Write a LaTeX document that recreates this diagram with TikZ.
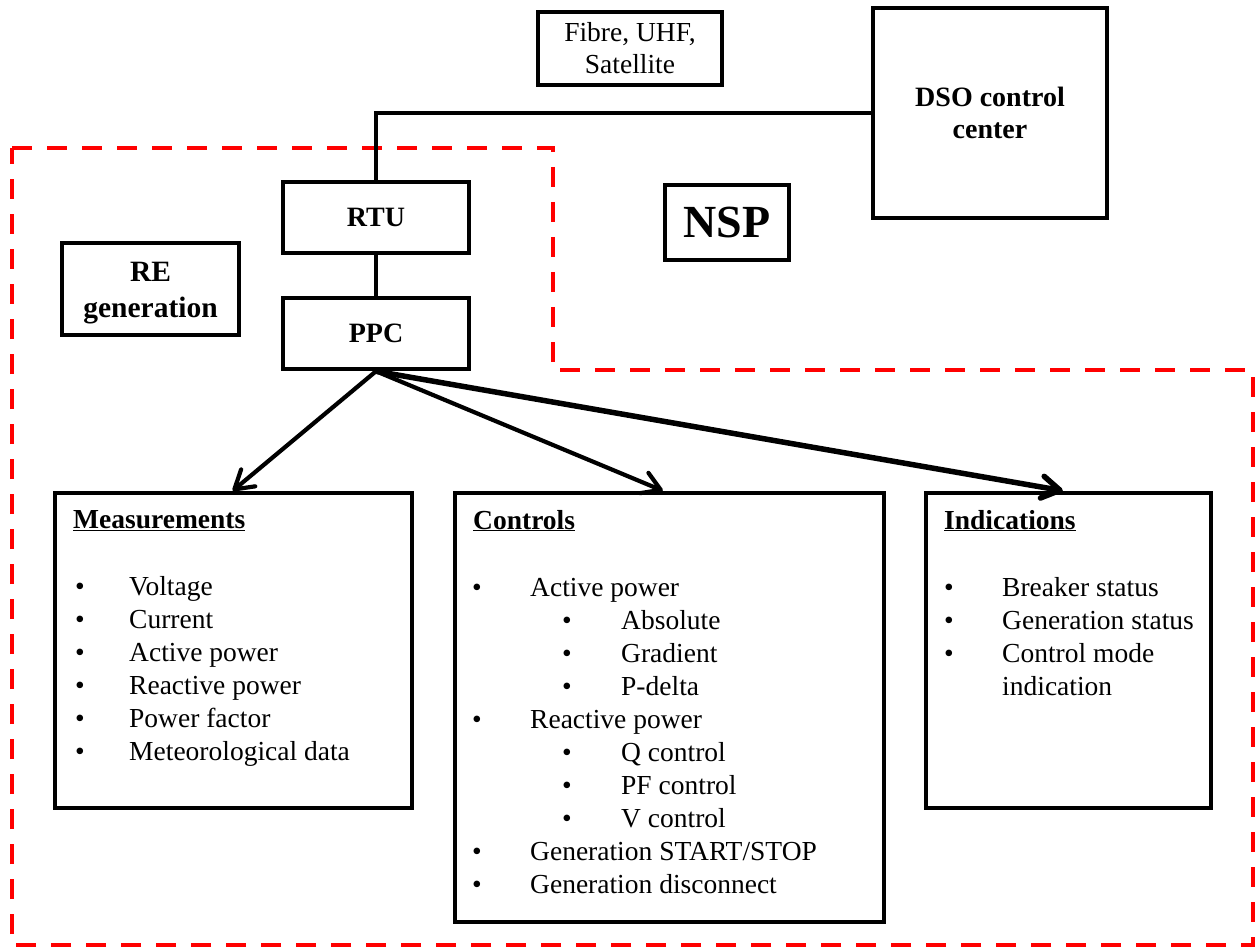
\documentclass[tikz,border=0pt]{standalone}
\usepackage{fontspec}
\setmainfont{Liberation Serif}
\usetikzlibrary{arrows.meta}
\newcommand\bodysize{\fontsize{27.5}{33}\selectfont}
\newcommand\headsize{\fontsize{28}{32}\selectfont\bfseries}
\begin{document}
\begin{tikzpicture}[x=1pt,y=-1pt,
  box/.style={draw, line width=4.5pt, inner sep=0pt},
  boldtxt/.style={anchor=base, inner sep=0pt, font=\headsize},
  plaintxt/.style={anchor=base, inner sep=0pt, font=\bodysize},
  item/.style={anchor=base west, inner sep=0pt, font=\bodysize},
  dot/.style={anchor=base, inner sep=0pt, font=\bodysize},
  heading/.style={anchor=base west, inner sep=0pt, font=\bodysize\bfseries},
  link/.style={line width=4.5pt},
  feed/.style={line width=4.2pt, line cap=round,
    -{Straight Barb[length=18pt,width=22pt,line cap=round,line join=round]}},
  zone/.style={draw=red, line width=4.5pt, dash pattern=on 20pt off 15pt},
]
\useasboundingbox (0,0) rectangle (1257,949);

% operator side
\node[box, minimum width=184pt, minimum height=73pt] (fibre) at (630,48.5) {};
\node[plaintxt] (fibre1) at (630,42) {Fibre, UHF,};
\node[plaintxt] (fibre2) at (630,74) {Satellite};

\node[box, minimum width=234pt, minimum height=210pt] (dso) at (990,113) {};
\node[boldtxt] (dso1) at (990,107) {DSO control};
\node[boldtxt] (dso2) at (990,139) {center};

\node[box, minimum width=124pt, minimum height=75pt, font=\fontsize{46}{50}\selectfont\bfseries] (nsp) at (727,222.5) {NSP};

% plant side
\node[box, minimum width=186pt, minimum height=71pt, font=\headsize] (rtu) at (376,217.5) {RTU};
\node[box, minimum width=186pt, minimum height=71pt, font=\headsize] (ppc) at (376,333.5) {PPC};

\node[box, minimum width=177pt, minimum height=92pt] (re) at (150.5,289) {};
\node[boldtxt, font=\fontsize{29.5}{33}\selectfont\bfseries] (re1) at (150.5,282) {RE};
\node[boldtxt, font=\fontsize{29.5}{33}\selectfont\bfseries] (re2) at (150.5,317) {generation};

% boundary between the two domains
\draw[zone] (12,148) -- (553,148) -- (553,370) -- (1253,370) -- (1253,945) -- (12,945) -- cycle;

% communication links
\draw[link] (rtu.north) |- (dso.west);
\draw[link] (rtu.south) -- (ppc.north);

% signal groups
\node[box, minimum width=357pt, minimum height=315pt] (meas) at (233.5,650.5) {};
\node[box, minimum width=429pt, minimum height=429pt] (ctrl) at (669.5,707.5) {};
\node[box, minimum width=285pt, minimum height=315pt] (ind) at (1068.5,650.5) {};

\draw[feed] (ppc.south) -- ([xshift=180pt]meas.north west);
\draw[feed] (ppc.south) -- ([xshift=210pt]ctrl.north west);
\draw[feed, line width=5.5pt] (ppc.south) -- ([xshift=139pt]ind.north west);

% measurements
\node[heading] (mh) at (73,528) {\underline{Measurements}};
\foreach \t [count=\i from 0] in {Voltage, Current, Active power, Reactive power, Power factor, Meteorological data} {
  \node[dot] (mb\i) at (80,595+33*\i) {\textbullet};
  \node[item] (mt\i) at (129,595+33*\i) {\t};
}

% controls
\node[heading] (ch) at (473,529) {\underline{Controls}};
\foreach \t/\lvl [count=\i from 0] in {Active power/0, Absolute/1, Gradient/1, P-delta/1, Reactive power/0, Q control/1, PF control/1, V control/1, {Generation START/STOP}/0, Generation disconnect/0} {
  \ifnum\lvl=0
    \node[dot] (cb\i) at (477,596+33.1*\i) {\textbullet};
    \node[item] (ct\i) at (530,596+33.1*\i) {\t};
  \else
    \node[dot] (cb\i) at (567,596+33.1*\i) {\textbullet};
    \node[item] (ct\i) at (621,596+33.1*\i) {\t};
  \fi
}

% indications
\node[heading] (ih) at (944,529) {\underline{Indications}};
\foreach \t [count=\i from 0] in {Breaker status, Generation status, Control mode} {
  \node[dot] (ib\i) at (949,596+33*\i) {\textbullet};
  \node[item] (it\i) at (1002,596+33*\i) {\t};
}
\node[item] (it3) at (1002,695) {indication};
\end{tikzpicture}
\end{document}
